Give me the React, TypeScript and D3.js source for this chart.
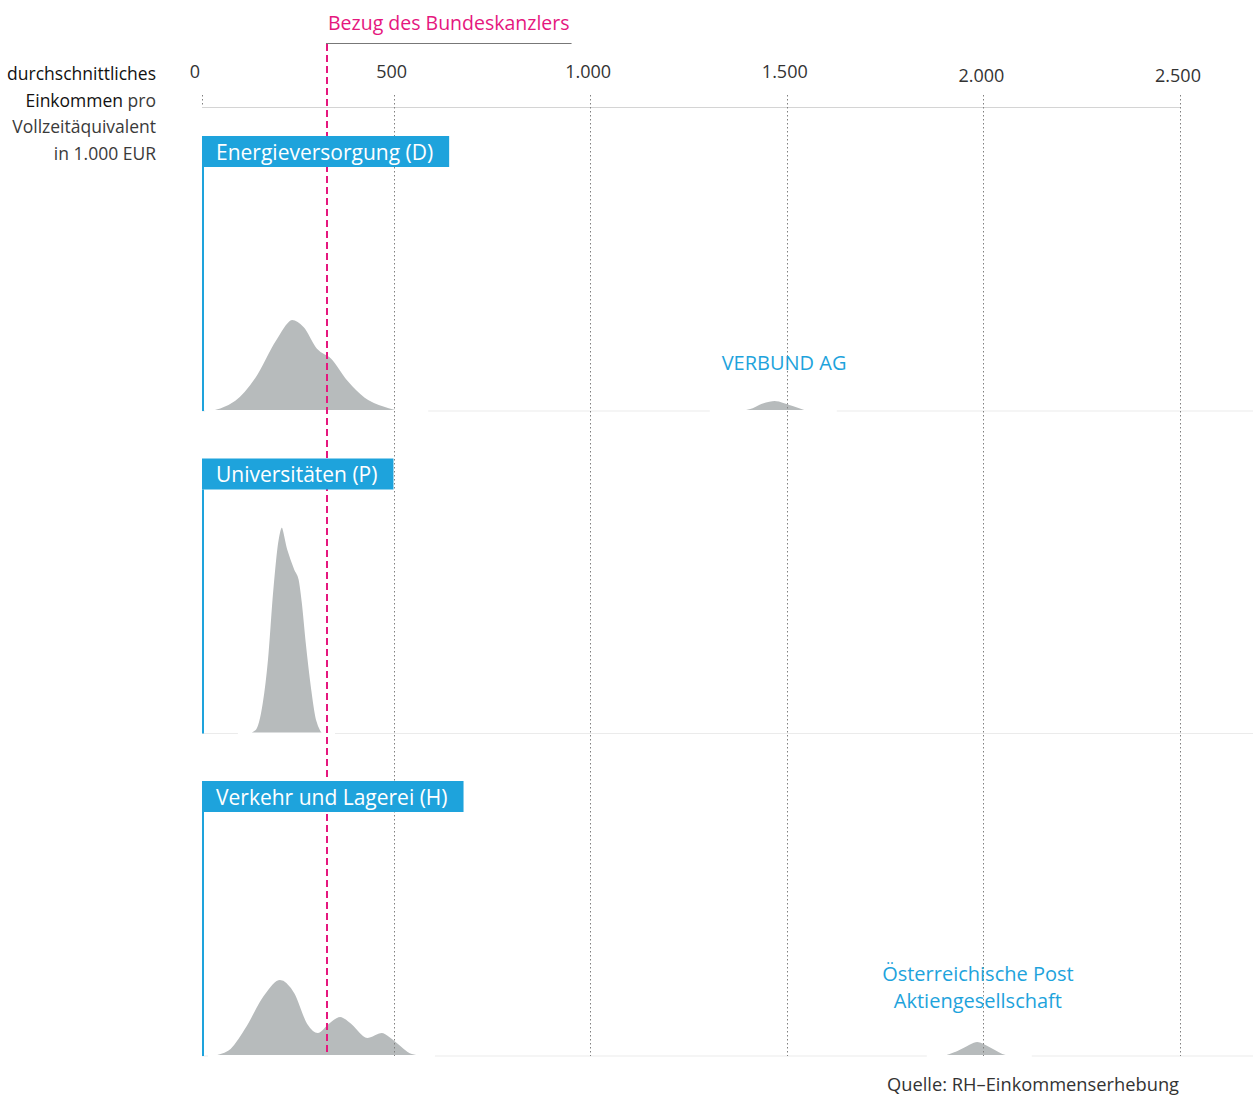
import { useEffect, useRef } from 'react'
import * as d3 from 'd3'

// [income in 1.000 EUR, relative density (Universitäten peak = 100)]
type Pt = [number, number]

const sectors = ['Energieversorgung (D)', 'Universitäten (P)', 'Verkehr und Lagerei (H)']
const ticks = [0, 500, 1000, 1500, 2000, 2500]
const chancellorSalary = 330

const energieDensity: Pt[] = [
  [21, 0], [96, 5.3], [147, 16.4], [199, 34.3], [242, 44.4], [274, 40.6], [307, 30.4],
  [343, 25.6], [384, 15], [428, 6.8], [486, 1.9], [547, 0], [588, 0],
]
const verbundDensity: Pt[] = [
  [1304, 0], [1363, 0], [1406, 1.4], [1436, 3.9], [1469, 5.3], [1507, 3.4], [1545, 1], [1577, 0], [1627, 0],
]
const uniDensity: Pt[] = [
  [104, 0], [122, 0], [147, 1.9], [165, 15], [178, 35.7], [191, 68.1], [204, 92.3], [216, 100],
  [232, 88.9], [250, 79.2], [261, 74.4], [269, 63.3], [279, 44], [292, 22.7], [305, 6.8], [325, 0], [351, 0],
]
const verkehrDensity: Pt[] = [
  [28, 0], [78, 2.9], [122, 14], [165, 28.5], [211, 37.2], [250, 30.4], [282, 15.9], [307, 11.6],
  [333, 15.9], [364, 19.3], [394, 15.9], [433, 9.2], [470, 11.6], [503, 7.7], [547, 1.4], [605, 0],
]
const postDensity: Pt[] = [
  [1856, 0], [1881, 0], [1927, 2.4], [1953, 4.8], [1984, 7.2], [2016, 4.8], [2049, 1.4], [2085, 0], [2123, 0],
]

const densities = [
  { sector: sectors[0], data: energieDensity },
  { sector: sectors[0], data: verbundDensity },
  { sector: sectors[1], data: uniDensity },
  { sector: sectors[2], data: verkehrDensity },
  { sector: sectors[2], data: postDensity },
]

const companyLabels = [
  { sector: sectors[0], at: 1493, lines: ['VERBUND AG'] },
  { sector: sectors[2], at: 1986, lines: ['Österreichische Post', 'Aktiengesellschaft'] },
]

const titleLines = [
  [{ t: 'durchschnittliches', dark: true }],
  [{ t: 'Einkommen', dark: true }, { t: ' pro', dark: false }],
  [{ t: 'Vollzeitäquivalent', dark: false }],
  [{ t: 'in 1.000 EUR', dark: false }],
]

const W = 1253
const H = 1097
const LEFT = 202
const BLUE = '#1ea3dc'
const PINK = '#e5177e'
const FONT = '"Open Sans", sans-serif'

const de = d3.formatLocale({ decimal: ',', thousands: '.', grouping: [3], currency: ['', ' €'] })
const fmt = de.format(',')

export default function App() {
  const svgRef = useRef<SVGSVGElement>(null)

  useEffect(() => {
    document.body.style.margin = '0'
    if (!svgRef.current) return
    const svg = d3.select(svgRef.current)
    svg.selectAll('*').remove()

    const x = d3.scaleLinear().domain([0, 2500]).range([197, 1180])
    const rowY = d3.scalePoint<string>().domain(sectors).range([411, 1056])
    const h = d3.scaleLinear().domain([0, 100]).range([0, 207])
    const lastBase = rowY(sectors[sectors.length - 1])!
    const tickX = (t: number) => Math.max(LEFT, Math.round(x(t))) + 0.5

    // row baselines
    sectors.forEach((s) => {
      svg.append('line')
        .attr('x1', LEFT).attr('x2', W)
        .attr('y1', rowY(s)!).attr('y2', rowY(s)!)
        .attr('stroke', '#ebebeb').attr('stroke-width', 1)
    })

    // top axis line
    svg.append('line')
      .attr('x1', LEFT).attr('x2', x(2500))
      .attr('y1', 107.5).attr('y2', 107.5)
      .attr('stroke', '#d4d4d4')

    // density shapes
    densities.forEach((d) => {
      const base = rowY(d.sector)!
      const area = d3.area<Pt>()
        .x((p) => x(p[0]))
        .y0(base)
        .y1((p) => base - h(p[1]))
        .curve(d3.curveMonotoneX)
      svg.append('path')
        .attr('d', area(d.data) || '')
        .attr('fill', '#b7bbbc')
        .attr('stroke', '#fff')
        .attr('stroke-width', 2)
    })

    // dotted gridlines
    ticks.forEach((t) => {
      svg.append('line')
        .attr('x1', tickX(t)).attr('x2', tickX(t))
        .attr('y1', 95).attr('y2', t === 0 ? 107 : lastBase)
        .attr('stroke', '#808080').attr('stroke-width', 1)
        .attr('stroke-dasharray', '1.5,2.5')
    })

    // tick labels
    ticks.forEach((t) => {
      svg.append('text')
        .attr('x', x(t) - 2)
        .attr('y', t >= 2000 ? 82 : 78)
        .attr('text-anchor', 'middle')
        .attr('font-family', FONT).attr('font-size', 18)
        .attr('fill', '#333')
        .text(fmt(t))
    })

    // left title
    titleLines.forEach((parts, i) => {
      const txt = svg.append('text')
        .attr('x', 156).attr('y', 80 + i * 26.7)
        .attr('text-anchor', 'end')
        .attr('font-family', FONT).attr('font-size', 17.5)
      parts.forEach((p) => {
        txt.append('tspan')
          .attr('fill', p.dark ? '#111' : '#3a3a3a')
          .attr('font-weight', p.dark ? 500 : 400)
          .text(p.t)
      })
    })

    // company labels
    const lift = [41, 48]
    companyLabels.forEach((c, k) => {
      const base = rowY(c.sector)!
      const n = c.lines.length
      c.lines.forEach((line, i) => {
        svg.append('text')
          .attr('x', x(c.at)).attr('y', base - lift[k] - (n - 1 - i) * 27)
          .attr('text-anchor', 'middle')
          .attr('font-family', FONT).attr('font-size', 20)
          .attr('fill', BLUE)
          .text(line)
      })
    })

    // chancellor reference
    const cx = Math.round(x(chancellorSalary))
    svg.append('line')
      .attr('x1', cx).attr('x2', cx)
      .attr('y1', 44).attr('y2', lastBase)
      .attr('stroke', PINK).attr('stroke-width', 2)
      .attr('stroke-dasharray', '7,4')
    const ref = svg.append('text')
      .attr('x', cx + 1).attr('y', 30)
      .attr('font-family', FONT).attr('font-size', 19.5)
      .attr('fill', PINK)
      .text('Bezug des Bundeskanzlers')
    const refLen = (ref.node() as SVGTextElement).getComputedTextLength()
    svg.append('line')
      .attr('x1', cx - 1).attr('x2', cx + refLen + 3)
      .attr('y1', 43.5).attr('y2', 43.5)
      .attr('stroke', '#777').attr('stroke-width', 1)

    // sector label boxes (drawn above the lines)
    sectors.forEach((s) => {
      const base = rowY(s)!
      const top = base - 275
      const g = svg.append('g')
      const rect = g.append('rect').attr('x', LEFT).attr('y', top).attr('height', 31).attr('fill', BLUE)
      const label = g.append('text')
        .attr('x', LEFT + 14).attr('y', top + 23.5)
        .attr('font-family', FONT).attr('font-size', 21)
        .attr('fill', '#fff')
        .text(s)
      const len = (label.node() as SVGTextElement).getComputedTextLength()
      rect.attr('width', len + 30)
      g.append('line')
        .attr('x1', LEFT + 1).attr('x2', LEFT + 1)
        .attr('y1', top + 31).attr('y2', base)
        .attr('stroke', BLUE).attr('stroke-width', 2)
    })

    // source
    svg.append('text')
      .attr('x', 887).attr('y', 1091)
      .attr('font-family', FONT).attr('font-size', 18.3)
      .attr('fill', '#333')
      .text('Quelle: RH–Einkommenserhebung')
  }, [])

  return (
    <svg
      ref={svgRef}
      width={W}
      height={H}
      style={{ display: 'block', position: 'absolute', left: 0, top: 0, background: '#fff' }}
    />
  )
}
